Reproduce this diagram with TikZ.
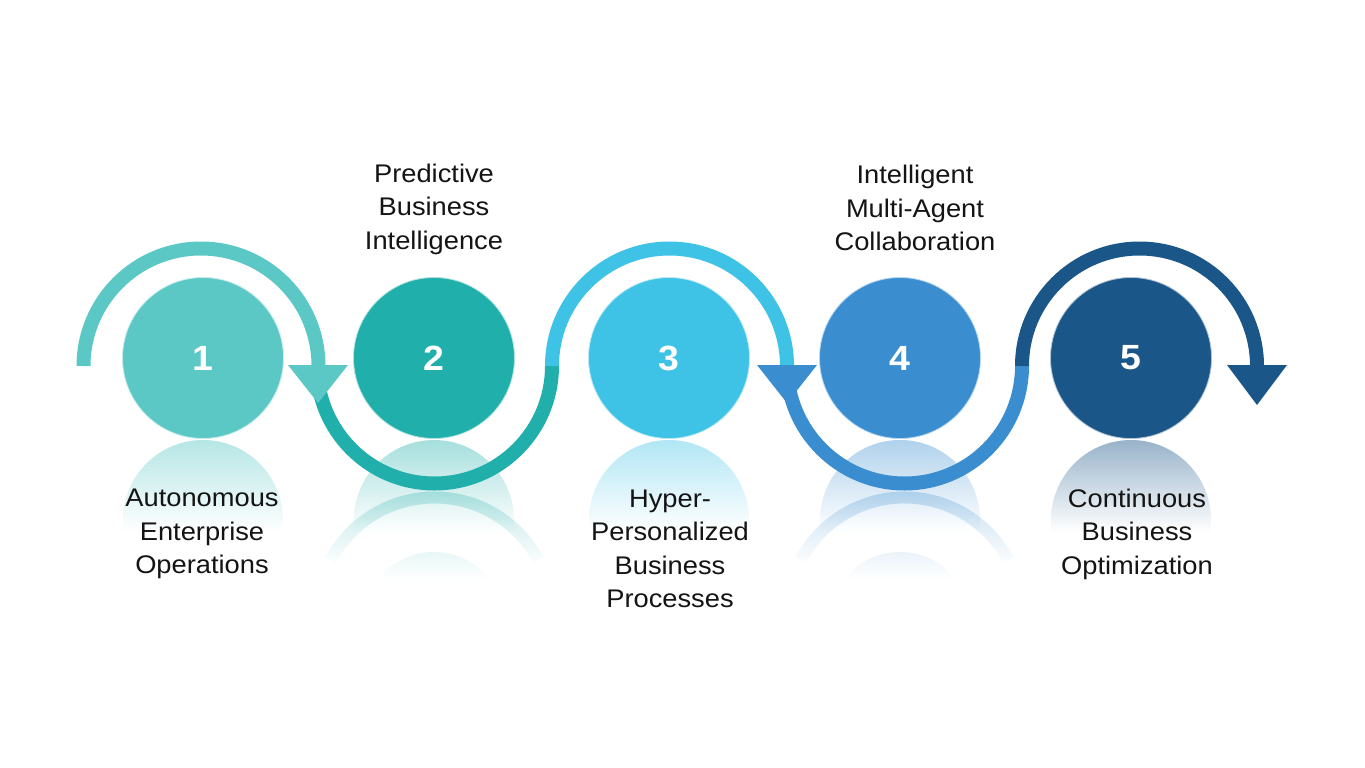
\documentclass[tikz,border=0pt]{standalone}
\usepackage{fontspec}
\setmainfont{Liberation Sans}[FakeStretch=1.07]
\usetikzlibrary{fadings}
\definecolor{cA}{HTML}{5BC8C6}
\definecolor{cB}{HTML}{20AFAA}
\definecolor{cC}{HTML}{3EC2E6}
\definecolor{cD}{HTML}{3A8ED0}
\definecolor{cE}{HTML}{1B5689}
\tikzfading[name=reflfade, top color=transparent!65, bottom color=transparent!100]
\newcommand{\circrefl}[3]{% x, color, strength
  \begin{scope}
    \clip (#1,-520) circle[radius=80];
    \shade[top color=#2!#3!white, bottom color=white] (#1-81,-440) rectangle (#1+81,-532);
  \end{scope}}
\newcommand{\faintrefl}[2]{% x, color
  \begin{scope}
    \clip (#1,-622) circle[radius=70];
    \shade[top color=#2!14!white, bottom color=white] (#1-71,-542) rectangle (#1+71,-580);
  \end{scope}}
\begin{document}
\begin{tikzpicture}[x=1pt,y=1pt,
  numcirc/.style={circle, fill=#1, draw=#1!35!white, line width=0.8pt, minimum size=161pt, inner sep=0pt, text=white,
    font=\fontsize{35}{35}\selectfont\bfseries},
  band/.style={line width=14pt, line cap=butt, #1},
  lbl/.style={align=center, inner sep=0pt, text=black!92,
    font=\fontsize{25.5}{33.5}\selectfont},
  arcrefl/.style={draw=#1, line width=12pt, path fading=reflfade}]
\useasboundingbox (0,0) rectangle (1365,-768);
\fill[white] (0,0) rectangle (1365,-768);

% faint third-level reflections
\faintrefl{434}{cB}
\faintrefl{900}{cD}

% circle reflections
\circrefl{203}{cA}{45}
\circrefl{434}{cB}{40}
\circrefl{669}{cC}{40}
\circrefl{900}{cD}{40}
\circrefl{1131}{cE}{45}

% arc reflections
\path[arcrefl=cB] ([shift={(152:117.5)}]434.5,-615) arc[start angle=152, end angle=28, radius=117.5];
\path[arcrefl=cD] ([shift={(152:117.5)}]904.5,-615) arc[start angle=152, end angle=28, radius=117.5];

% circles
\node[numcirc=cA] (n1) at (203,-358) {1};
\node[numcirc=cB] (n2) at (434,-358) {2};
\node[numcirc=cC] (n3) at (669,-358) {3};
\node[numcirc=cD] (n4) at (900,-358) {4};
\node[numcirc=cE] (n5) at (1131,-358) {5};

% wave bands
\coordinate (s0) at (83.5,-366);
\coordinate (s1) at (317,-366);
\coordinate (s2) at (552,-366);
\coordinate (s3) at (787,-366);
\coordinate (s4) at (1022,-366);
\draw[band=cA] (s0) arc[start angle=180, end angle=0, radius=117.5];
\draw[band=cB] (s1) arc[start angle=180, end angle=360, radius=117.5];
\draw[band=cC] (s2) arc[start angle=180, end angle=0, radius=117.5];
\draw[band=cD] (s3) arc[start angle=180, end angle=360, radius=117.5];
\draw[band=cE] (s4) arc[start angle=180, end angle=0, radius=117.5];

% arrowheads
\fill[cA] (288,-365) -- (348,-365) -- (318,-403) -- cycle;
\fill[cD] (757,-365) -- (817,-365) -- (787,-403) -- cycle;
\fill[cE] (1227,-365) -- (1287,-365) -- (1257,-405) -- cycle;

% labels
\node[lbl] (t1) at (202,-534) {Autonomous\\Enterprise\\Operations};
\node[lbl] (t2) at (434,-209) {Predictive\\Business\\Intelligence};
\node[lbl] (t3) at (670,-549) {Hyper-\\Personalized\\Business\\Processes};
\node[lbl] (t4) at (915,-208) {Intelligent\\Multi-Agent\\Collaboration};
\node[lbl] (t5) at (1137,-534) {Continuous\\Business\\Optimization};
\end{tikzpicture}
\end{document}
